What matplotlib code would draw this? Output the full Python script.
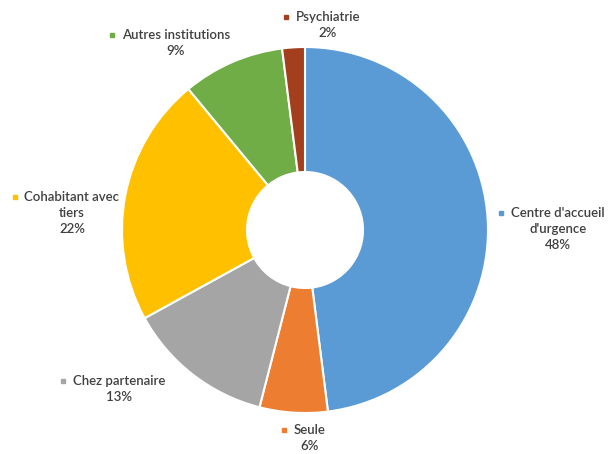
import matplotlib
matplotlib.use("Agg")
import matplotlib.pyplot as plt

categories = ["Centre d'accueil\nd'urgence", "Seule", "Chez partenaire",
              "Cohabitant avec\ntiers", "Autres institutions", "Psychiatrie"]
values = [48, 6, 13, 22, 9, 2]
colors = ["#5B9BD5", "#ED7D31", "#A5A5A5", "#FFC000", "#70AD47", "#A33F1C"]

# label placement (figure pixel coords from top-left): center x of text, y of first line
label_pos = [(558, 213), (310, 430), (119, 381), (72, 197), (176, 35), (328, 17)]

W, H = 615, 454
fig = plt.figure(figsize=(W / 100, H / 100), dpi=100)
ax = fig.add_axes([0, 0, 1, 1])

cx, cy, R, r_in = 305, H - 230, 183, 58
ax.pie(values, colors=colors, startangle=90, counterclock=False,
       radius=R, center=(cx, cy), frame=True,
       wedgeprops=dict(width=R - r_in, edgecolor="white", linewidth=1.5))
ax.set_xlim(0, W)
ax.set_ylim(0, H)
ax.set_aspect("equal")
ax.axis("off")

font = dict(family=["Lato", "DejaVu Sans"], fontsize=9.5, color="#404040",
            fontweight="semibold")
fig.canvas.draw()
renderer = fig.canvas.get_renderer()
for cat, val, col, (tx, ty) in zip(categories, values, colors, label_pos):
    text = f"{cat}\n{val}%"
    first = cat.split("\n")[0]
    m = ax.text(tx, H - ty, first, ha="center", va="center", alpha=0, **font)
    bb = m.get_window_extent(renderer)
    m.remove()
    ax.text(tx, H - ty + bb.height / 2, text, ha="center", va="top",
            multialignment="center", linespacing=1.4, **font)
    ax.plot([bb.x0 - 10], [H - ty], marker="s", markersize=3.5, color=col,
            linestyle="none")

fig.savefig("out.png", dpi=100, facecolor="white")
